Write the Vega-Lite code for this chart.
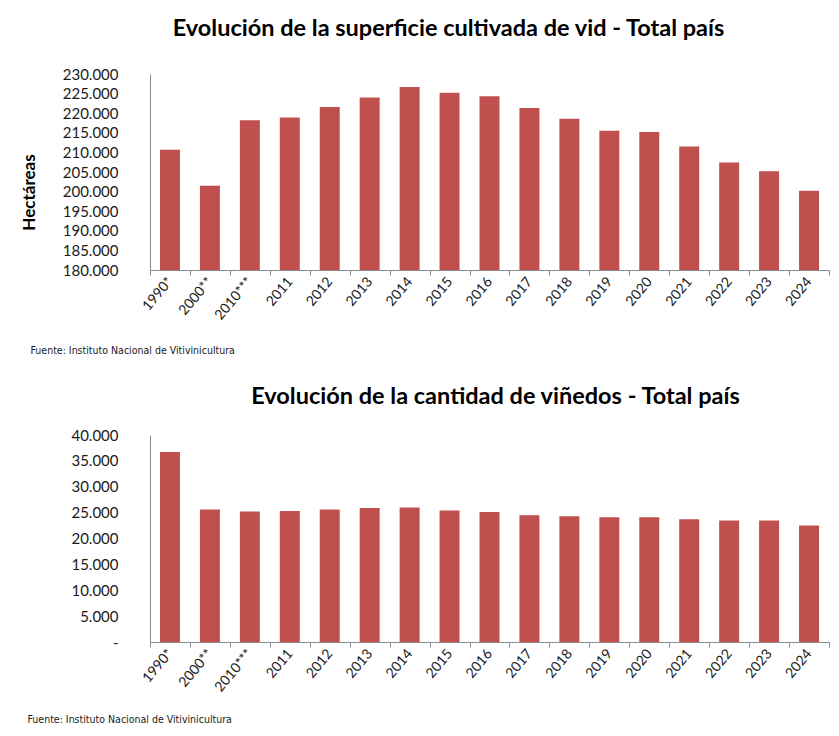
{
  "$schema": "https://vega.github.io/schema/vega-lite/v6.json",
  "background": "white",
  "padding": {"left": 20, "top": 16, "right": 5, "bottom": 5},
  "spacing": 28,
  "config": {
    "locale": {"number": {"decimal": ",", "thousands": ".", "grouping": [3], "currency": ["$", ""]}},
    "view": {"stroke": null},
    "font": "Lato",
    "axis": {"domainColor": "#8c8c8c", "tickColor": "#8c8c8c", "labelColor": "#1a1a1a", "grid": false}
  },
  "datasets": {
    "superficie": [
      {"anio": "1990*", "hectareas": 210700},
      {"anio": "2000**", "hectareas": 201500},
      {"anio": "2010***", "hectareas": 218200},
      {"anio": "2011", "hectareas": 218900},
      {"anio": "2012", "hectareas": 221600},
      {"anio": "2013", "hectareas": 224000},
      {"anio": "2014", "hectareas": 226700},
      {"anio": "2015", "hectareas": 225200},
      {"anio": "2016", "hectareas": 224300},
      {"anio": "2017", "hectareas": 221300},
      {"anio": "2018", "hectareas": 218600},
      {"anio": "2019", "hectareas": 215500},
      {"anio": "2020", "hectareas": 215200},
      {"anio": "2021", "hectareas": 211500},
      {"anio": "2022", "hectareas": 207400},
      {"anio": "2023", "hectareas": 205200},
      {"anio": "2024", "hectareas": 200200}
    ],
    "vinedos": [
      {"anio": "1990*", "cantidad": 36700},
      {"anio": "2000**", "cantidad": 25600},
      {"anio": "2010***", "cantidad": 25200},
      {"anio": "2011", "cantidad": 25300},
      {"anio": "2012", "cantidad": 25600},
      {"anio": "2013", "cantidad": 25900},
      {"anio": "2014", "cantidad": 26000},
      {"anio": "2015", "cantidad": 25400},
      {"anio": "2016", "cantidad": 25100},
      {"anio": "2017", "cantidad": 24500},
      {"anio": "2018", "cantidad": 24300},
      {"anio": "2019", "cantidad": 24100},
      {"anio": "2020", "cantidad": 24100},
      {"anio": "2021", "cantidad": 23700},
      {"anio": "2022", "cantidad": 23500},
      {"anio": "2023", "cantidad": 23500},
      {"anio": "2024", "cantidad": 22500}
    ]
  },
  "vconcat": [
    {
      "title": {"text": "Evolución de la superficie cultivada de vid - Total país", "fontSize": 23.5, "fontWeight": "bold", "color": "black", "anchor": "middle", "frame": "group", "dx": -41, "offset": 27},
      "width": 679,
      "height": 196,
      "data": {"name": "superficie"},
      "mark": {"type": "bar", "color": "#C0504D", "width": {"band": 0.5}},
      "encoding": {
        "x": {
          "field": "anio", "type": "nominal", "sort": null,
          "scale": {"paddingInner": 0, "paddingOuter": 0},
          "axis": {
            "title": "Fuente: Instituto Nacional de Vitivinicultura",
            "titleFont": "DejaVu Sans Condensed", "titleFontSize": 10.5, "titleFontWeight": "normal", "titleColor": "#1a1a1a",
            "titleAnchor": "start", "titleAlign": "left", "titleBaseline": "alphabetic", "titleX": -120, "titleY": 83,
            "labelAngle": -50, "labelFontSize": 14, "labelAlign": "right", "labelBaseline": "middle", "labelPadding": 4,
            "tickBand": "extent", "tickSize": 5
          }
        },
        "y": {
          "field": "hectareas", "type": "quantitative",
          "scale": {"domain": [180000, 230000], "zero": false, "nice": false},
          "axis": {
            "title": "Hectáreas", "titleFontSize": 17, "titleFontWeight": "bold", "titleColor": "black", "titlePadding": 24, "titleY": 118,
            "values": [180000, 185000, 190000, 195000, 200000, 205000, 210000, 215000, 220000, 225000, 230000],
            "format": ",d", "labelFontSize": 15, "ticks": false, "labelPadding": 32
          }
        },
        "y2": {"datum": 180000}
      }
    },
    {
      "title": {"text": "Evolución de la cantidad de viñedos - Total país", "fontSize": 23.5, "fontWeight": "bold", "color": "black", "anchor": "middle", "frame": "group", "dx": 6, "offset": 20},
      "width": 679,
      "height": 207,
      "data": {"name": "vinedos"},
      "mark": {"type": "bar", "color": "#C0504D", "width": {"band": 0.5}},
      "encoding": {
        "x": {
          "field": "anio", "type": "nominal", "sort": null,
          "scale": {"paddingInner": 0, "paddingOuter": 0},
          "axis": {
            "title": "Fuente: Instituto Nacional de Vitivinicultura",
            "titleFont": "DejaVu Sans Condensed", "titleFontSize": 10.5, "titleFontWeight": "normal", "titleColor": "#1a1a1a",
            "titleAnchor": "start", "titleAlign": "left", "titleBaseline": "alphabetic", "titleX": -123, "titleY": 80,
            "labelAngle": -50, "labelFontSize": 14, "labelAlign": "right", "labelBaseline": "middle", "labelPadding": 4,
            "tickBand": "extent", "tickSize": 5
          }
        },
        "y": {
          "field": "cantidad", "type": "quantitative",
          "scale": {"domain": [0, 40000], "nice": false},
          "axis": {
            "title": null,
            "values": [0, 5000, 10000, 15000, 20000, 25000, 30000, 35000, 40000],
            "format": ",d", "labelExpr": "datum.value === 0 ? '-      ' : datum.label",
            "labelFontSize": 15, "ticks": false, "labelPadding": 32
          }
        }
      }
    }
  ]
}
